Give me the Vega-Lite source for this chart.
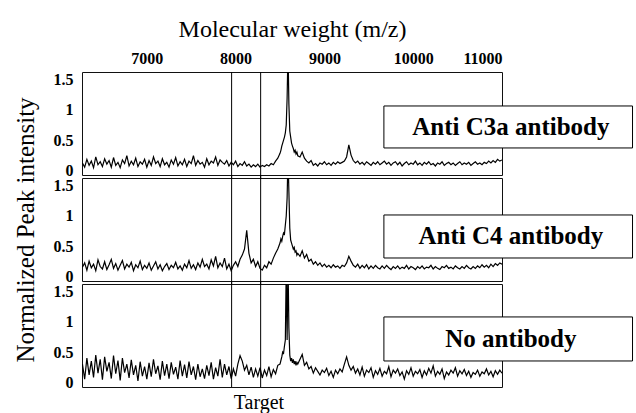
{
  "$schema": "https://vega.github.io/schema/vega-lite/v6.json",
  "background": "white",
  "padding": {"left": 12, "top": 16, "right": 0, "bottom": 0},
  "spacing": 3,
  "bounds": "flush",
  "config": {
    "font": "Liberation Serif",
    "view": {"stroke": "#111111", "strokeWidth": 1},
    "axis": {"grid": false, "ticks": false, "tickSize": 0, "domain": false, "labelOverlap": false, "labelFont": "Liberation Serif", "labelFontSize": 16, "labelFontWeight": "bold", "labelColor": "black", "titleFont": "Liberation Serif", "titleColor": "black", "titleFontWeight": "normal", "titleFontSize": 24}
  },
  "datasets": {
    "ms": [
      {"m":6275,"a":0.12,"b":0.15,"c":0.30},{"m":6300,"a":0.05,"b":0.22,"c":0.05},{"m":6325,"a":0.18,"b":0.10,"c":0.40},{"m":6350,"a":0.08,"b":0.25,"c":0.12},
      {"m":6375,"a":0.15,"b":0.14,"c":0.35},{"m":6400,"a":0.04,"b":0.20,"c":0.08},{"m":6425,"a":0.22,"b":0.09,"c":0.45},{"m":6450,"a":0.09,"b":0.27,"c":0.15},
      {"m":6475,"a":0.14,"b":0.16,"c":0.38},{"m":6500,"a":0.06,"b":0.12,"c":0.04},{"m":6525,"a":0.19,"b":0.24,"c":0.42},{"m":6550,"a":0.10,"b":0.11,"c":0.18},
      {"m":6575,"a":0.16,"b":0.19,"c":0.33},{"m":6600,"a":0.05,"b":0.28,"c":0.06},{"m":6625,"a":0.21,"b":0.13,"c":0.44},{"m":6650,"a":0.08,"b":0.21,"c":0.14},
      {"m":6675,"a":0.13,"b":0.10,"c":0.36},{"m":6700,"a":0.04,"b":0.18,"c":0.03},{"m":6725,"a":0.17,"b":0.26,"c":0.40},{"m":6750,"a":0.11,"b":0.12,"c":0.16},
      {"m":6775,"a":0.24,"b":0.20,"c":0.30},{"m":6800,"a":0.07,"b":0.15,"c":0.07},{"m":6825,"a":0.15,"b":0.23,"c":0.37},{"m":6850,"a":0.09,"b":0.09,"c":0.12},
      {"m":6875,"a":0.20,"b":0.19,"c":0.28},{"m":6900,"a":0.06,"b":0.14,"c":0.02},{"m":6925,"a":0.14,"b":0.25,"c":0.34},{"m":6950,"a":0.10,"b":0.11,"c":0.10},
      {"m":6975,"a":0.18,"b":0.18,"c":0.26},{"m":7000,"a":0.05,"b":0.13,"c":0.05},{"m":7025,"a":0.16,"b":0.22,"c":0.32},{"m":7050,"a":0.08,"b":0.10,"c":0.09},
      {"m":7075,"a":0.22,"b":0.17,"c":0.38},{"m":7100,"a":0.11,"b":0.24,"c":0.14},{"m":7125,"a":0.15,"b":0.12,"c":0.27},{"m":7150,"a":0.06,"b":0.19,"c":0.04},
      {"m":7175,"a":0.19,"b":0.09,"c":0.35},{"m":7200,"a":0.09,"b":0.16,"c":0.11},{"m":7225,"a":0.13,"b":0.21,"c":0.30},{"m":7250,"a":0.05,"b":0.11,"c":0.06},
      {"m":7275,"a":0.17,"b":0.18,"c":0.33},{"m":7300,"a":0.10,"b":0.14,"c":0.13},{"m":7325,"a":0.21,"b":0.23,"c":0.25},{"m":7350,"a":0.07,"b":0.12,"c":0.05},
      {"m":7375,"a":0.14,"b":0.17,"c":0.36},{"m":7400,"a":0.09,"b":0.10,"c":0.10},{"m":7425,"a":0.18,"b":0.20,"c":0.29},{"m":7450,"a":0.06,"b":0.14,"c":0.07},
      {"m":7475,"a":0.15,"b":0.26,"c":0.34},{"m":7500,"a":0.11,"b":0.13,"c":0.12},{"m":7525,"a":0.24,"b":0.19,"c":0.26},{"m":7550,"a":0.08,"b":0.11,"c":0.04},
      {"m":7575,"a":0.16,"b":0.22,"c":0.30},{"m":7600,"a":0.10,"b":0.15,"c":0.09},{"m":7625,"a":0.13,"b":0.28,"c":0.22},{"m":7650,"a":0.05,"b":0.16,"c":0.06},
      {"m":7675,"a":0.19,"b":0.20,"c":0.28},{"m":7700,"a":0.09,"b":0.12,"c":0.11},{"m":7725,"a":0.15,"b":0.27,"c":0.33},{"m":7750,"a":0.12,"b":0.17,"c":0.05},
      {"m":7775,"a":0.22,"b":0.33,"c":0.24},{"m":7800,"a":0.08,"b":0.14,"c":0.10},{"m":7825,"a":0.17,"b":0.22,"c":0.38},{"m":7850,"a":0.13,"b":0.16,"c":0.08},
      {"m":7875,"a":0.10,"b":0.30,"c":0.30},{"m":7900,"a":0.16,"b":0.12,"c":0.12},{"m":7925,"a":0.07,"b":0.20,"c":0.26},{"m":7950,"a":0.13,"b":0.09,"c":0.06},
      {"m":7975,"a":0.09,"b":0.18,"c":0.22},{"m":8000,"a":0.15,"b":0.24,"c":0.10},{"m":8025,"a":0.06,"b":0.16,"c":0.30},{"m":8050,"a":0.11,"b":0.28,"c":0.44},
      {"m":8075,"a":0.08,"b":0.35,"c":0.35},{"m":8100,"a":0.14,"b":0.45,"c":0.20},{"m":8125,"a":0.07,"b":0.76,"c":0.28},{"m":8150,"a":0.10,"b":0.38,"c":0.12},
      {"m":8175,"a":0.05,"b":0.22,"c":0.25},{"m":8200,"a":0.09,"b":0.28,"c":0.08},{"m":8225,"a":0.06,"b":0.16,"c":0.22},{"m":8250,"a":0.10,"b":0.24,"c":0.10},
      {"m":8275,"a":0.05,"b":0.13,"c":0.24},{"m":8300,"a":0.08,"b":0.10,"c":0.07},{"m":8325,"a":0.06,"b":0.18,"c":0.20},{"m":8350,"a":0.09,"b":0.14,"c":0.11},
      {"m":8375,"a":0.07,"b":0.24,"c":0.26},{"m":8400,"a":0.11,"b":0.20,"c":0.09},{"m":8425,"a":0.09,"b":0.30,"c":0.21},{"m":8450,"a":0.15,"b":0.38,"c":0.14},
      {"m":8475,"a":0.20,"b":0.45,"c":0.28},
      {"m":8500,"a":0.28,"b":0.55,"c":0.30},{"m":8510,"a":0.33,"b":0.62,"c":0.36},{"m":8520,"a":0.40,"b":0.58,"c":0.42},{"m":8530,"a":0.45,"b":0.66,"c":0.50},
      {"m":8540,"a":0.50,"b":0.72,"c":0.48},{"m":8550,"a":0.55,"b":0.70,"c":0.60},{"m":8560,"a":0.62,"b":0.85,"c":0.70},{"m":8570,"a":0.75,"b":1.0,"c":1.9},
      {"m":8580,"a":1.2,"b":1.3,"c":0.7},{"m":8590,"a":2.0,"b":2.0,"c":2.0},{"m":8600,"a":1.1,"b":1.4,"c":0.9},{"m":8610,"a":0.65,"b":0.8,"c":0.45},
      {"m":8620,"a":0.55,"b":0.6,"c":0.35},{"m":8630,"a":0.45,"b":0.55,"c":0.40},{"m":8640,"a":0.40,"b":0.50,"c":0.32},{"m":8650,"a":0.36,"b":0.45,"c":0.38},
      {"m":8660,"a":0.30,"b":0.48,"c":0.30},{"m":8670,"a":0.33,"b":0.40,"c":0.35},{"m":8680,"a":0.27,"b":0.42,"c":0.28},{"m":8690,"a":0.30,"b":0.35,"c":0.33},
      {"m":8700,"a":0.24,"b":0.38,"c":0.30},
      {"m":8725,"a":0.22,"b":0.33,"c":0.38},{"m":8750,"a":0.30,"b":0.42,"c":0.46},{"m":8775,"a":0.20,"b":0.30,"c":0.28},{"m":8800,"a":0.15,"b":0.36,"c":0.33},
      {"m":8825,"a":0.12,"b":0.25,"c":0.22},{"m":8850,"a":0.16,"b":0.28,"c":0.26},{"m":8875,"a":0.08,"b":0.20,"c":0.15},{"m":8900,"a":0.11,"b":0.24,"c":0.24},
      {"m":8925,"a":0.07,"b":0.18,"c":0.18},{"m":8950,"a":0.12,"b":0.22,"c":0.12},{"m":8975,"a":0.10,"b":0.16,"c":0.20},{"m":9000,"a":0.14,"b":0.20,"c":0.16},
      {"m":9025,"a":0.09,"b":0.15,"c":0.23},{"m":9050,"a":0.12,"b":0.18,"c":0.11},{"m":9075,"a":0.08,"b":0.14,"c":0.18},{"m":9100,"a":0.13,"b":0.19,"c":0.08},
      {"m":9125,"a":0.10,"b":0.15,"c":0.20},{"m":9150,"a":0.14,"b":0.17,"c":0.14},{"m":9175,"a":0.11,"b":0.13,"c":0.22},{"m":9200,"a":0.13,"b":0.18,"c":0.17},
      {"m":9225,"a":0.15,"b":0.16,"c":0.30},{"m":9250,"a":0.22,"b":0.22,"c":0.42},{"m":9275,"a":0.42,"b":0.33,"c":0.28},{"m":9300,"a":0.25,"b":0.25,"c":0.20},
      {"m":9325,"a":0.16,"b":0.18,"c":0.26},{"m":9350,"a":0.12,"b":0.15,"c":0.15},{"m":9375,"a":0.15,"b":0.20,"c":0.22},{"m":9400,"a":0.10,"b":0.13,"c":0.12},
      {"m":9425,"a":0.13,"b":0.18,"c":0.25},{"m":9450,"a":0.09,"b":0.14,"c":0.10},{"m":9475,"a":0.14,"b":0.19,"c":0.20},{"m":9500,"a":0.11,"b":0.12,"c":0.16},
      {"m":9525,"a":0.08,"b":0.17,"c":0.24},{"m":9550,"a":0.13,"b":0.13,"c":0.08},{"m":9575,"a":0.10,"b":0.18,"c":0.19},{"m":9600,"a":0.14,"b":0.14,"c":0.13},
      {"m":9625,"a":0.09,"b":0.12,"c":0.23},{"m":9650,"a":0.12,"b":0.17,"c":0.10},{"m":9675,"a":0.15,"b":0.13,"c":0.18},{"m":9700,"a":0.10,"b":0.18,"c":0.14},
      {"m":9725,"a":0.13,"b":0.14,"c":0.26},{"m":9750,"a":0.08,"b":0.11,"c":0.09},{"m":9775,"a":0.12,"b":0.16,"c":0.20},{"m":9800,"a":0.14,"b":0.13,"c":0.15},
      {"m":9825,"a":0.09,"b":0.17,"c":0.22},{"m":9850,"a":0.13,"b":0.12,"c":0.11},{"m":9875,"a":0.07,"b":0.15,"c":0.17},{"m":9900,"a":0.11,"b":0.13,"c":0.05},
      {"m":9925,"a":0.14,"b":0.18,"c":0.19},{"m":9950,"a":0.09,"b":0.12,"c":0.13},{"m":9975,"a":0.12,"b":0.16,"c":0.24},{"m":10000,"a":0.10,"b":0.14,"c":0.10},
      {"m":10025,"a":0.15,"b":0.11,"c":0.18},{"m":10050,"a":0.09,"b":0.16,"c":0.14},{"m":10075,"a":0.12,"b":0.13,"c":0.21},{"m":10100,"a":0.08,"b":0.17,"c":0.08},
      {"m":10125,"a":0.13,"b":0.12,"c":0.19},{"m":10150,"a":0.10,"b":0.15,"c":0.12},{"m":10175,"a":0.14,"b":0.14,"c":0.23},{"m":10200,"a":0.09,"b":0.18,"c":0.15},
      {"m":10225,"a":0.11,"b":0.12,"c":0.27},{"m":10250,"a":0.07,"b":0.16,"c":0.10},{"m":10275,"a":0.12,"b":0.13,"c":0.18},{"m":10300,"a":0.10,"b":0.11,"c":0.13},
      {"m":10325,"a":0.14,"b":0.16,"c":0.22},{"m":10350,"a":0.08,"b":0.14,"c":0.06},{"m":10375,"a":0.11,"b":0.18,"c":0.17},{"m":10400,"a":0.13,"b":0.13,"c":0.12},
      {"m":10425,"a":0.09,"b":0.15,"c":0.20},{"m":10450,"a":0.12,"b":0.12,"c":0.15},{"m":10475,"a":0.08,"b":0.17,"c":0.24},{"m":10500,"a":0.11,"b":0.14,"c":0.10},
      {"m":10525,"a":0.14,"b":0.12,"c":0.19},{"m":10550,"a":0.09,"b":0.16,"c":0.14},{"m":10575,"a":0.12,"b":0.13,"c":0.21},{"m":10600,"a":0.10,"b":0.18,"c":0.11},
      {"m":10625,"a":0.13,"b":0.14,"c":0.18},{"m":10650,"a":0.08,"b":0.12,"c":0.08},{"m":10675,"a":0.11,"b":0.16,"c":0.16},{"m":10700,"a":0.14,"b":0.13,"c":0.13},
      {"m":10725,"a":0.10,"b":0.17,"c":0.20},{"m":10750,"a":0.12,"b":0.14,"c":0.10},{"m":10775,"a":0.09,"b":0.19,"c":0.17},{"m":10800,"a":0.13,"b":0.15,"c":0.14},
      {"m":10825,"a":0.11,"b":0.18,"c":0.22},{"m":10850,"a":0.15,"b":0.14,"c":0.12},{"m":10875,"a":0.12,"b":0.20,"c":0.18},{"m":10900,"a":0.16,"b":0.16,"c":0.09},
      {"m":10925,"a":0.13,"b":0.21,"c":0.19},{"m":10950,"a":0.18,"b":0.18,"c":0.13},{"m":10975,"a":0.15,"b":0.22,"c":0.20},{"m":11000,"a":0.17,"b":0.20,"c":0.15}
    ],
    "target": [{"m": 7955}, {"m": 8282}],
    "labels": [
      {"panel": "a", "label": "Anti C3a antibody"},
      {"panel": "b", "label": "Anti C4 antibody"},
      {"panel": "c", "label": "No antibody"}
    ],
    "note": [{"label": "Target"}]
  },
  "vconcat": [
    {
      "width": 420, "height": 103,
      "layer": [
        {
          "data": {"name": "ms"},
          "mark": {"type": "line", "color": "black", "strokeWidth": 1.2, "clip": true},
          "encoding": {
            "x": {"field": "m", "type": "quantitative", "scale": {"domain": [6270, 11000], "nice": false, "zero": false},
                  "axis": {"orient": "top", "values": [7000, 8000, 9000, 10000, 11000], "labelExpr": "'' + datum.value", "labelPadding": 6, "title": "Molecular weight (m/z)", "titlePadding": 9}},
            "y": {"field": "a", "type": "quantitative", "scale": {"domain": [-0.08, 1.63], "nice": false, "zero": false},
                  "axis": {"values": [0, 0.5, 1, 1.5], "labelExpr": "'' + datum.value", "labelPadding": 9, "title": null}}
          }
        },
        {
          "data": {"name": "target"},
          "mark": {"type": "rule", "color": "black", "strokeWidth": 1, "clip": false},
          "encoding": {
            "x": {"field": "m", "type": "quantitative",
                  "axis": {"orient": "top", "values": [7000, 8000, 9000, 10000, 11000], "labelExpr": "'' + datum.value", "labelPadding": 6, "title": "Molecular weight (m/z)", "titlePadding": 9}},
            "y": {"datum": 1.63, "axis": {"values": [0, 0.5, 1, 1.5], "labelExpr": "'' + datum.value", "labelPadding": 9, "title": null}},
            "y2": {"datum": -0.14}
          }
        },
        {
          "data": {"name": "labels"},
          "transform": [{"filter": "datum.panel == 'a'"}],
          "mark": {"type": "rect", "fill": "white", "stroke": "black", "strokeWidth": 1, "clip": false},
          "encoding": {
            "x": {"datum": 9670, "axis": {"orient": "top", "values": [7000, 8000, 9000, 10000, 11000], "labelExpr": "'' + datum.value", "labelPadding": 6, "title": "Molecular weight (m/z)", "titlePadding": 9}},
            "x2": {"datum": 12470},
            "y": {"datum": 1.066, "axis": {"values": [0, 0.5, 1, 1.5], "labelExpr": "'' + datum.value", "labelPadding": 9, "title": null}},
            "y2": {"datum": 0.369}
          }
        },
        {
          "data": {"name": "labels"},
          "transform": [{"filter": "datum.panel == 'a'"}],
          "mark": {"type": "text", "font": "Liberation Serif", "fontSize": 25, "fontWeight": "bold", "color": "black", "align": "center", "baseline": "middle", "clip": false},
          "encoding": {
            "x": {"datum": 11100, "axis": {"orient": "top", "values": [7000, 8000, 9000, 10000, 11000], "labelExpr": "'' + datum.value", "labelPadding": 6, "title": "Molecular weight (m/z)", "titlePadding": 9}},
            "y": {"datum": 0.717, "axis": {"values": [0, 0.5, 1, 1.5], "labelExpr": "'' + datum.value", "labelPadding": 9, "title": null}},
            "text": {"field": "label"}
          }
        }
      ]
    },
    {
      "width": 420, "height": 103,
      "layer": [
        {
          "data": {"name": "ms"},
          "mark": {"type": "line", "color": "black", "strokeWidth": 1.2, "clip": true},
          "encoding": {
            "x": {"field": "m", "type": "quantitative", "scale": {"domain": [6270, 11000], "nice": false, "zero": false}, "axis": null},
            "y": {"field": "b", "type": "quantitative", "scale": {"domain": [-0.08, 1.63], "nice": false, "zero": false},
                  "axis": {"values": [0, 0.5, 1, 1.5], "labelExpr": "'' + datum.value", "labelPadding": 9, "title": "Normalized Peak intensity", "titlePadding": 15, "titleFontSize": 25}}
          }
        },
        {
          "data": {"name": "target"},
          "mark": {"type": "rule", "color": "black", "strokeWidth": 1, "clip": false},
          "encoding": {
            "x": {"field": "m", "type": "quantitative", "axis": null},
            "y": {"datum": 1.68, "axis": {"values": [0, 0.5, 1, 1.5], "labelExpr": "'' + datum.value", "labelPadding": 9, "title": "Normalized Peak intensity", "titlePadding": 15, "titleFontSize": 25}},
            "y2": {"datum": -0.14}
          }
        },
        {
          "data": {"name": "labels"},
          "transform": [{"filter": "datum.panel == 'b'"}],
          "mark": {"type": "rect", "fill": "white", "stroke": "black", "strokeWidth": 1, "clip": false},
          "encoding": {
            "x": {"datum": 9670, "axis": null}, "x2": {"datum": 12470},
            "y": {"datum": 1.016, "axis": {"values": [0, 0.5, 1, 1.5], "labelExpr": "'' + datum.value", "labelPadding": 9, "title": "Normalized Peak intensity", "titlePadding": 15, "titleFontSize": 25}},
            "y2": {"datum": 0.302}
          }
        },
        {
          "data": {"name": "labels"},
          "transform": [{"filter": "datum.panel == 'b'"}],
          "mark": {"type": "text", "font": "Liberation Serif", "fontSize": 25, "fontWeight": "bold", "color": "black", "align": "center", "baseline": "middle", "clip": false},
          "encoding": {
            "x": {"datum": 11100, "axis": null},
            "y": {"datum": 0.66, "axis": {"values": [0, 0.5, 1, 1.5], "labelExpr": "'' + datum.value", "labelPadding": 9, "title": "Normalized Peak intensity", "titlePadding": 15, "titleFontSize": 25}},
            "text": {"field": "label"}
          }
        }
      ]
    },
    {
      "width": 420, "height": 103,
      "layer": [
        {
          "data": {"name": "ms"},
          "mark": {"type": "line", "color": "black", "strokeWidth": 1.2, "clip": true},
          "encoding": {
            "x": {"field": "m", "type": "quantitative", "scale": {"domain": [6270, 11000], "nice": false, "zero": false}, "axis": null},
            "y": {"field": "c", "type": "quantitative", "scale": {"domain": [-0.08, 1.63], "nice": false, "zero": false},
                  "axis": {"values": [0, 0.5, 1, 1.5], "labelExpr": "'' + datum.value", "labelPadding": 9, "title": null}}
          }
        },
        {
          "data": {"name": "target"},
          "mark": {"type": "rule", "color": "black", "strokeWidth": 1, "clip": false},
          "encoding": {
            "x": {"field": "m", "type": "quantitative", "axis": null},
            "y": {"datum": 1.68, "axis": {"values": [0, 0.5, 1, 1.5], "labelExpr": "'' + datum.value", "labelPadding": 9, "title": null}},
            "y2": {"datum": -0.08}
          }
        },
        {
          "data": {"name": "labels"},
          "transform": [{"filter": "datum.panel == 'c'"}],
          "mark": {"type": "rect", "fill": "white", "stroke": "black", "strokeWidth": 1, "clip": false},
          "encoding": {
            "x": {"datum": 9670, "axis": null}, "x2": {"datum": 12470},
            "y": {"datum": 1.083, "axis": {"values": [0, 0.5, 1, 1.5], "labelExpr": "'' + datum.value", "labelPadding": 9, "title": null}},
            "y2": {"datum": 0.352}
          }
        },
        {
          "data": {"name": "labels"},
          "transform": [{"filter": "datum.panel == 'c'"}],
          "mark": {"type": "text", "font": "Liberation Serif", "fontSize": 25, "fontWeight": "bold", "color": "black", "align": "center", "baseline": "middle", "clip": false},
          "encoding": {
            "x": {"datum": 11100, "axis": null},
            "y": {"datum": 0.72, "axis": {"values": [0, 0.5, 1, 1.5], "labelExpr": "'' + datum.value", "labelPadding": 9, "title": null}},
            "text": {"field": "label"}
          }
        },
        {
          "data": {"name": "note"},
          "mark": {"type": "text", "font": "Liberation Serif", "fontSize": 20, "color": "black", "align": "center", "baseline": "middle", "clip": false},
          "encoding": {
            "x": {"datum": 8263, "axis": null},
            "y": {"datum": -0.345, "axis": {"values": [0, 0.5, 1, 1.5], "labelExpr": "'' + datum.value", "labelPadding": 9, "title": null}},
            "text": {"field": "label"}
          }
        }
      ]
    }
  ]
}
